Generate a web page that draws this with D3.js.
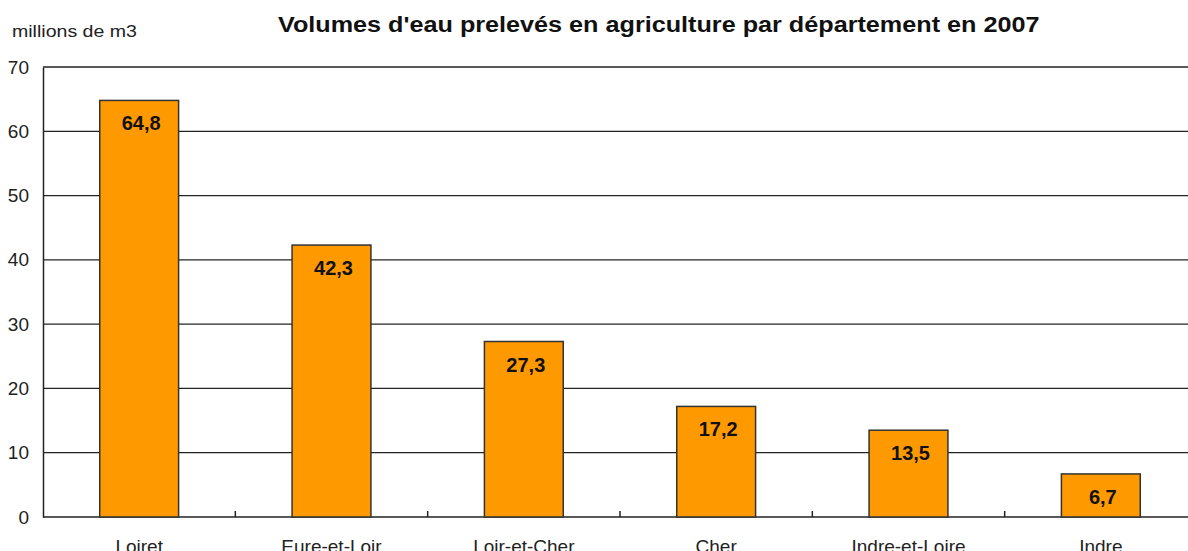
<!DOCTYPE html>
<html>
<head>
<meta charset="utf-8">
<script src="https://cdn.jsdelivr.net/npm/d3@7"></script>
<style>
body { margin: 0; background: #fff; }
svg { display: block; font-family: "Liberation Sans", Arial, sans-serif; }
.grid line { stroke: #222; stroke-width: 1.3; }
.y.axis text, .x.axis text { fill: #222; }
</style>
</head>
<body>
<div id="chart"></div>
<script>
var departements = ["Loiret", "Eure-et-Loir", "Loir-et-Cher", "Cher", "Indre-et-Loire", "Indre"];
var volumes = [64.8, 42.3, 27.3, 17.2, 13.5, 6.7];
var yTicks = [0, 10, 20, 30, 40, 50, 60, 70];
var titre = "Volumes d'eau prelevés en agriculture par département en 2007";
var unite = "millions de m3";

var W = 1188, H = 551;
var margin = {top: 67, left: 43, bottom: 34};
var plotRight = 1197;
var h = H - margin.top - margin.bottom;

var data = departements.map(function(d, i) { return {dep: d, v: volumes[i]}; });

var svg = d3.select("#chart").append("svg")
	.attr("width", W)
	.attr("height", H);

var x = d3.scaleBand().domain(departements).range([margin.left, plotRight]).paddingInner(0.59).paddingOuter(0.295);
var xb = d3.scaleBand().domain(departements).range([margin.left, plotRight]);
var y = d3.scaleLinear().domain([0, 70]).range([margin.top + h, margin.top]);

// stretch a text sideways so it spans the given width (the original is drawn wide)
function stretch(sel, x0, y0, width) {
	var w = sel.node().getComputedTextLength();
	sel.attr("transform", "translate(" + x0 + "," + y0 + ") scale(" + (width / w) + ",1)");
}

// gridlines
svg.append("g").attr("class", "grid")
	.selectAll("line")
	.data(yTicks)
	.enter().append("line")
	.attr("x1", margin.left)
	.attr("x2", plotRight)
	.attr("y1", function(d) { return y(d); })
	.attr("y2", function(d) { return y(d); });

// y axis
var yAxis = d3.axisLeft(y).tickValues(yTicks).tickSize(0).tickPadding(14);
var gy = svg.append("g")
	.attr("class", "y axis")
	.attr("transform", "translate(" + margin.left + ",0)")
	.call(yAxis);
gy.select(".domain").attr("stroke", "#222").attr("stroke-width", 1.5);
gy.selectAll("text").style("font-size", "19px");

// x axis ticks between categories
svg.append("g")
	.selectAll("line")
	.data(departements.slice(1))
	.enter().append("line")
	.attr("x1", function(d) { return xb(d); })
	.attr("x2", function(d) { return xb(d); })
	.attr("y1", y(0))
	.attr("y2", y(0) - 6)
	.attr("stroke", "#222")
	.attr("stroke-width", 1.5);

// bars
svg.selectAll(".bar")
	.data(data)
	.enter().append("rect")
	.attr("class", "bar")
	.attr("x", function(d) { return x(d.dep); })
	.attr("width", x.bandwidth())
	.attr("y", function(d) { return y(d.v); })
	.attr("height", function(d) { return y(0) - y(d.v); })
	.style("fill", "#FF9900")
	.style("stroke", "#333")
	.style("stroke-width", 1.5);

// value labels
svg.selectAll(".val")
	.data(data)
	.enter().append("text")
	.attr("class", "val")
	.attr("x", function(d) { return x(d.dep) + x.bandwidth() / 2 + 2; })
	.attr("y", function(d) { return y(d.v) + 30; })
	.attr("text-anchor", "middle")
	.style("font-size", "20px")
	.style("font-weight", "bold")
	.style("fill", "#111")
	.text(function(d) { return String(d.v).replace(".", ","); });

// category labels
var xAxis = d3.axisBottom(xb).tickSize(0).tickPadding(0);
var gx = svg.append("g")
	.attr("class", "x axis")
	.attr("transform", "translate(0," + y(0) + ")")
	.call(xAxis);
gx.select(".domain").remove();
gx.selectAll("text")
	.attr("dy", null)
	.attr("y", 36)
	.style("font-size", "19px");

var u = svg.append("text")
	.style("font-size", "17px")
	.style("fill", "#222")
	.text(unite);
stretch(u, 12, 37, 125);

var t = svg.append("text")
	.style("font-size", "22px")
	.style("font-weight", "bold")
	.style("fill", "#111")
	.text(titre);
stretch(t, 278, 32, 762);
</script>
</body>
</html>
